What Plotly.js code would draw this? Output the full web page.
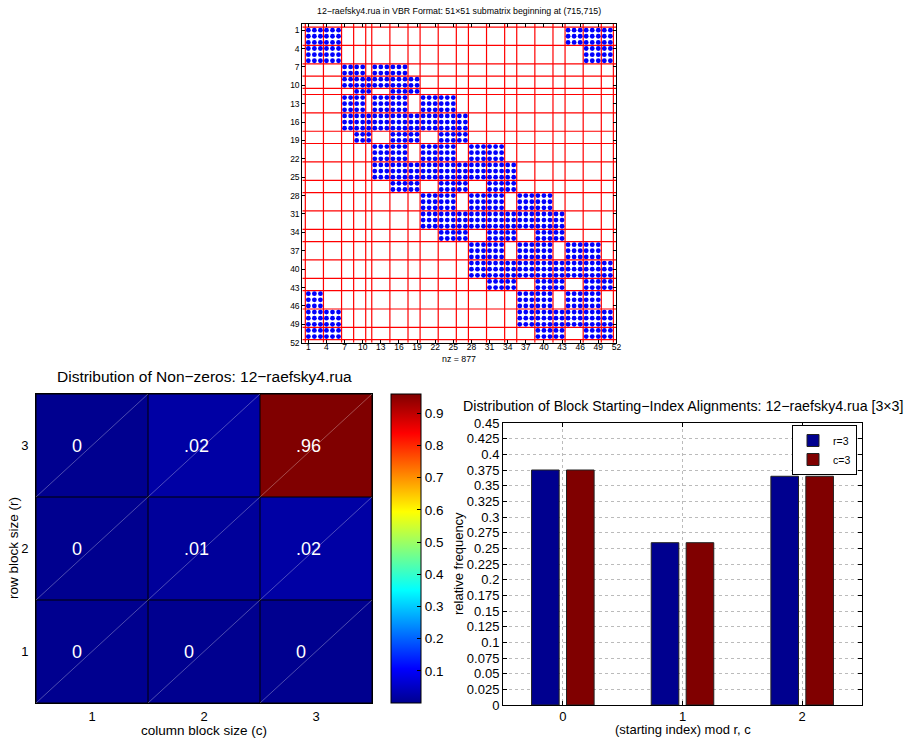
<!DOCTYPE html>
<html>
<head>
<meta charset="utf-8">
<script src="https://cdn.plot.ly/plotly-3.0.1.min.js"></script>
<style>html,body{margin:0;padding:0;background:#fff;}#chart{width:907px;height:738px;}</style>
</head>
<body>
<div id="chart"></div>
<script>
// ---------- Spy plot data (VBR 51x51 submatrix) ----------
const spyRowStart = [1,4,7,9,11,12,15,18,20,23,26,28,31,34,36,39,42,44,47,50];
const spyRowEnd   = [3,6,8,10,11,14,17,19,22,25,27,30,33,35,38,41,43,46,49,51];
const spyColRanges = [
  [[1,6],[44,51]],
  [[1,6],[47,51]],
  [[7,10],[12,17]],
  [[7,19]],
  [[9,11],[15,19]],
  [[7,10],[12,17],[20,25]],
  [[7,27]],
  [[9,11],[15,19],[23,27]],
  [[12,17],[20,25],[28,33]],
  [[12,35]],
  [[15,19],[23,27],[31,35]],
  [[20,25],[28,33],[36,41]],
  [[20,43]],
  [[23,27],[31,35],[39,43]],
  [[28,33],[36,41],[44,49]],
  [[28,51]],
  [[31,35],[39,43],[47,51]],
  [[1,3],[36,41],[44,49]],
  [[1,6],[36,51]],
  [[1,6],[39,43],[47,51]]
];
const spyTicks = [1,4,7,10,13,16,19,22,25,28,31,34,37,40,43,46,49,52];
const spyN = 51;
const spyTitle = "12\u2212raefsky4.rua in VBR Format: 51\u00d751 submatrix beginning at (715,715)";

// ---------- Heatmap data ----------
const blockSizes = [1,2,3];             // r (rows) and c (columns)
const nzFrac = [                        // rows: r=1,2,3 ; cols: c=1,2,3
  [0, 0, 0],
  [0, 0.01, 0.02],
  [0, 0.02, 0.96]
];
const cbTicks = [0.1,0.2,0.3,0.4,0.5,0.6,0.7,0.8,0.9];

// ---------- Alignment bar data ----------
const alignCats = [0,1,2];
const rFreq = [0.375, 0.259, 0.365];
const cFreq = [0.375, 0.259, 0.365];
const barTickVals = [0,0.025,0.05,0.075,0.1,0.125,0.15,0.175,0.2,0.225,0.25,0.275,0.3,0.325,0.35,0.375,0.4,0.425,0.45];
const barTickText = ['0','0.025','0.05','0.075','0.1','0.125','0.15','0.175','0.2','0.225','0.25','0.275','0.3','0.325','0.35','0.375','0.4','0.425','0.45'];

const FONT = 'Liberation Sans, Arial, Helvetica, sans-serif';
const W = 907, H = 738;
const px = v => v / W;
const py = v => 1 - v / H;

// expand spy pattern
const sx = [], sy = [];
spyRowStart.forEach((rs, i) => {
  for (let r = rs; r <= spyRowEnd[i]; r++) {
    spyColRanges[i].forEach(([a, b]) => {
      for (let c = a; c <= b; c++) { sx.push(c); sy.push(r); }
    });
  }
});

const jet = [
  [0, 'rgb(0,0,143)'],
  [0.111, 'rgb(0,0,255)'],
  [0.365, 'rgb(0,255,255)'],
  [0.619, 'rgb(255,255,0)'],
  [0.873, 'rgb(255,0,0)'],
  [1, 'rgb(128,0,0)']
];

const traces = [
  {
    type: 'heatmap', x: blockSizes, y: blockSizes, z: nzFrac,
    xaxis: 'x', yaxis: 'y', colorscale: jet, zmin: 0, zmax: 0.96,
    showscale: true, hoverinfo: 'skip',
    colorbar: {
      x: px(391), xanchor: 'left', xpad: 0, ypad: 0,
      y: py(548.5), yanchor: 'middle', len: 309, lenmode: 'pixels',
      thickness: 30, thicknessmode: 'pixels',
      outlinewidth: 1, outlinecolor: '#000',
      tickvals: cbTicks, ticks: 'inside', ticklen: 4, tickcolor: '#000',
      tickfont: {family: FONT, size: 13.5, color: '#000'}
    }
  },
  {
    type: 'bar', name: 'r=3', x: alignCats, y: rFreq, xaxis: 'x2', yaxis: 'y2',
    marker: {color: 'rgb(0,0,143)', line: {color: '#222', width: 1}}
  },
  {
    type: 'bar', name: 'c=3', x: alignCats, y: cFreq, xaxis: 'x2', yaxis: 'y2',
    marker: {color: 'rgb(128,0,0)', line: {color: '#222', width: 1}}
  },
  {
    type: 'scatter', mode: 'markers', x: sx, y: sy, xaxis: 'x3', yaxis: 'y3',
    marker: {color: 'rgb(0,0,255)', size: 4.8, line: {width: 0}},
    showlegend: false, hoverinfo: 'skip'
  }
];

const shapes = [];
// spy partition lines
const bounds = [spyRowStart[0] - 0.5].concat(spyRowEnd.map(e => e + 0.5));
bounds.forEach(b => {
  shapes.push({type: 'line', xref: 'x3', yref: 'y3', x0: b, x1: b, y0: 0, y1: spyN + 1,
               line: {color: 'rgb(255,0,0)', width: 1.2}, layer: 'below'});
  shapes.push({type: 'line', xref: 'x3', yref: 'y3', y0: b, y1: b, x0: 0, x1: spyN + 1,
               line: {color: 'rgb(255,0,0)', width: 1.2}, layer: 'below'});
});
// heatmap cell borders and diagonals
const hb = [0.5, 1.5, 2.5, 3.5];
hb.forEach(b => {
  shapes.push({type: 'line', xref: 'x', yref: 'y', x0: b, x1: b, y0: 0.5, y1: 3.5, line: {color: '#000', width: 1}});
  shapes.push({type: 'line', xref: 'x', yref: 'y', y0: b, y1: b, x0: 0.5, x1: 3.5, line: {color: '#000', width: 1}});
});
blockSizes.forEach(r => blockSizes.forEach(c => {
  shapes.push({type: 'line', xref: 'x', yref: 'y', x0: c - 0.5, y0: r - 0.5, x1: c + 0.5, y1: r + 0.5,
               line: {color: 'rgba(255,255,255,0.5)', width: 0.6}});
}));

const fmt = v => v === 0 ? '0' : v.toFixed(2).replace(/^0/, '');
const annotations = [];
blockSizes.forEach((r, i) => blockSizes.forEach((c, j) => {
  annotations.push({xref: 'x', yref: 'y', x: c - 0.2, y: r, xanchor: 'left', yanchor: 'middle',
    text: fmt(nzFrac[i][j]), showarrow: false, font: {family: FONT, size: 18, color: '#fff'}});
}));
const addText = (text, x, y, size, extra) => annotations.push(Object.assign({
  xref: 'paper', yref: 'paper', x: px(x), y: py(y), xanchor: 'center', yanchor: 'middle',
  text: text, showarrow: false, font: {family: FONT, size: size, color: '#000'}}, extra || {}));

addText(spyTitle, 459, 11, 8.8);
addText('nz = 877', 459, 359, 8.8);
addText('Distribution of Non\u2212zeros: 12\u2212raefsky4.rua', 204, 377, 15.5);
addText('column block size (c)', 204, 730, 13.5);
addText('row block size (r)', 13, 548, 13.5, {textangle: -90});
addText('Distribution of Block Starting\u2212Index Alignments: 12\u2212raefsky4.rua [3\u00d73]', 682.5, 406, 14.2);
addText('relative frequency', 458, 564, 13, {textangle: -90});
addText('(starting index) mod r, c', 682.5, 729.5, 13);

const axBase = {showgrid: false, zeroline: false, linecolor: '#000', linewidth: 1, showline: true, mirror: true,
  tickfont: {family: FONT, color: '#000'}, tickcolor: '#000'};

const layout = {
  width: W, height: H, margin: {l: 0, r: 0, t: 0, b: 0},
  paper_bgcolor: '#fff', plot_bgcolor: '#fff',
  font: {family: FONT, color: '#000'},
  showlegend: true,
  legend: {x: px(857), xanchor: 'right', y: py(425), yanchor: 'top',
    bordercolor: '#000', borderwidth: 1, bgcolor: '#fff',
    font: {family: FONT, size: 10.5, color: '#000'}, tracegroupgap: 0, itemwidth: 30},
  barmode: 'group', bargap: 0.416, bargroupgap: 0.21,
  xaxis: Object.assign({}, axBase, {domain: [px(36), px(372)], range: [0.5, 3.5], tickvals: blockSizes,
    ticks: '', tickfont: {family: FONT, size: 13, color: '#000'}, anchor: 'y', ticklabelstandoff: 1}),
  yaxis: Object.assign({}, axBase, {domain: [py(703), py(394)], range: [0.5, 3.5], tickvals: blockSizes,
    ticks: '', tickfont: {family: FONT, size: 13, color: '#000'}, anchor: 'x', ticklabelstandoff: 4}),
  xaxis2: Object.assign({}, axBase, {domain: [px(503), px(862)], range: [-0.5, 2.5], tickvals: alignCats,
    ticks: 'inside', ticklen: 4, mirror: 'ticks', showgrid: true, gridcolor: '#bbb', griddash: 'dot', gridwidth: 1,
    tickfont: {family: FONT, size: 13, color: '#000'}, anchor: 'y2', ticklabelstandoff: -1}),
  yaxis2: Object.assign({}, axBase, {domain: [py(705), py(423)], range: [0, 0.45], tickvals: barTickVals, ticktext: barTickText,
    ticks: 'inside', ticklen: 4, mirror: 'ticks', showgrid: true, gridcolor: '#bbb', griddash: 'dot', gridwidth: 1,
    tickfont: {family: FONT, size: 13, color: '#000'}, anchor: 'x2'}),
  xaxis3: Object.assign({}, axBase, {domain: [px(302.3), px(616.4)], range: [0, spyN + 1], tickvals: spyTicks,
    ticks: 'inside', ticklen: 3, mirror: 'ticks', tickfont: {family: FONT, size: 8.5, color: '#000'}, anchor: 'y3',
    ticklabelstandoff: -4}),
  yaxis3: Object.assign({}, axBase, {domain: [py(342.7), py(24)], range: [spyN + 1, 0], tickvals: spyTicks,
    ticks: 'inside', ticklen: 3, mirror: 'ticks', tickfont: {family: FONT, size: 8.5, color: '#000'}, anchor: 'x3'}),
  shapes: shapes,
  annotations: annotations
};

Plotly.newPlot('chart', traces, layout, {staticPlot: true, displayModeBar: false});
</script>
</body>
</html>
